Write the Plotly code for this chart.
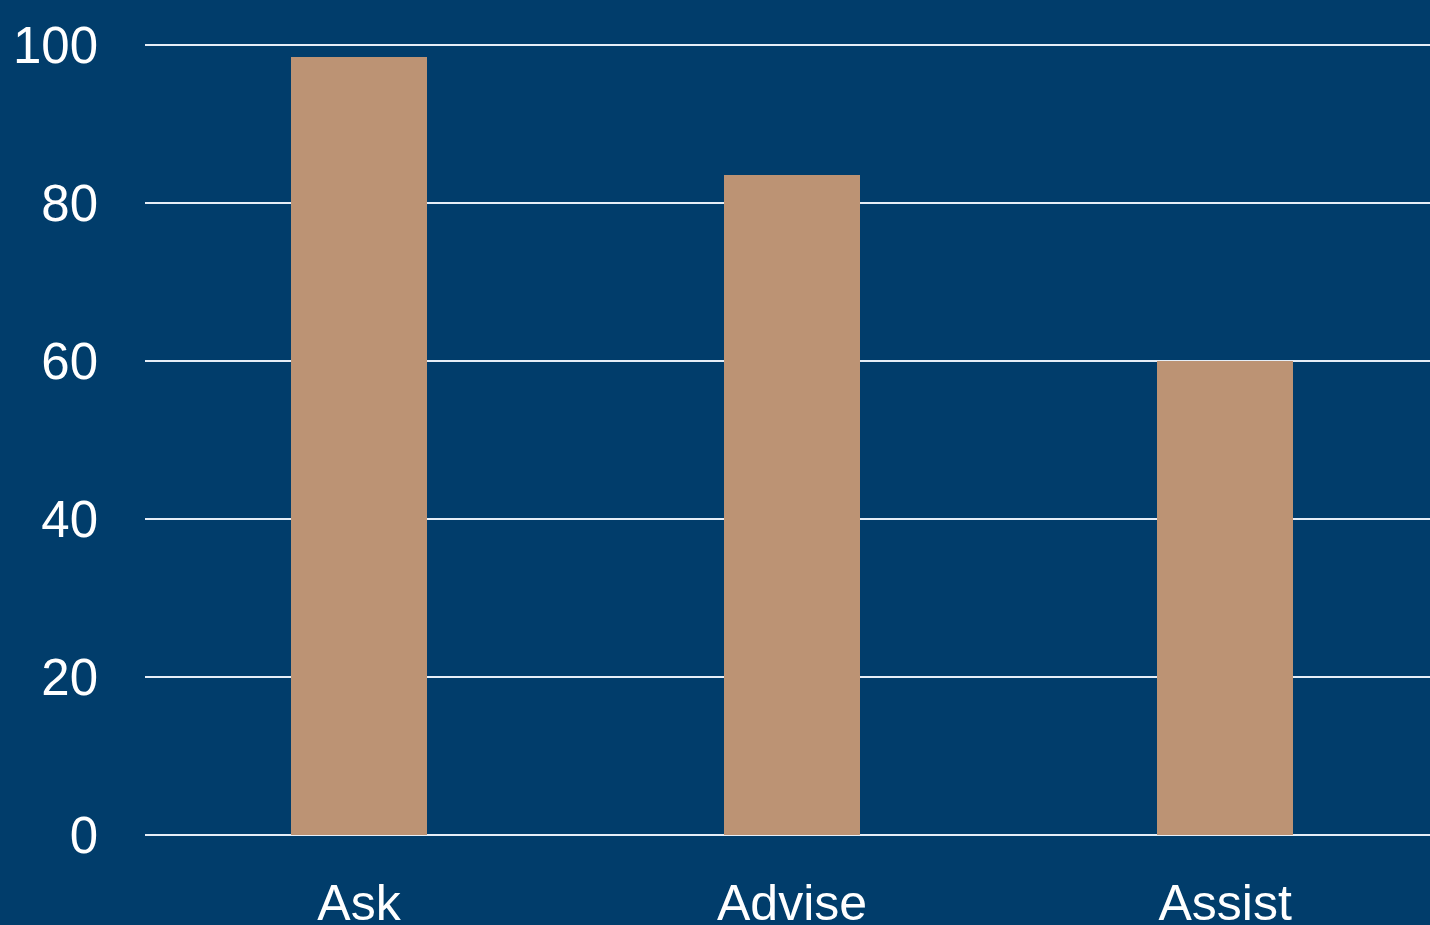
import plotly.graph_objects as go

# Categories and their percentages
categories = ["Ask", "Advise", "Assist"]
values = [98.5, 83.5, 60]
y_ticks = [0, 20, 40, 60, 80, 100]

bg = "#013d6b"
bar_color = "#bc9374"
grid_color = "#e6eef7"

fig = go.Figure(
    go.Bar(
        x=categories,
        y=values,
        width=0.314,
        marker=dict(color=bar_color, line=dict(width=0)),
        hoverinfo="x+y",
    )
)

fig.update_layout(
    width=1430,
    height=925,
    margin=dict(l=145, r=0, t=43, b=88),
    paper_bgcolor=bg,
    plot_bgcolor=bg,
    showlegend=False,
    font=dict(family="Liberation Sans, Arial, sans-serif", size=50, color="white"),
    bargap=0,
)

fig.update_xaxes(
    range=[-0.494, 2.473],
    automargin=False,
    showgrid=False,
    zeroline=False,
    showline=False,
    ticks="",
    ticklabelstandoff=32,
    tickfont=dict(size=50, color="white"),
)

# a small pad past 0 and 100 keeps the end gridlines drawn
fig.update_yaxes(
    range=[-0.25, 100.25],
    automargin=False,
    tickvals=y_ticks,
    ticktext=[str(v) for v in y_ticks],
    showgrid=True,
    gridcolor=grid_color,
    gridwidth=2,
    zeroline=False,
    showline=False,
    ticks="",
    ticklabelstandoff=46,
    tickfont=dict(size=51, color="white"),
)

fig.write_html("out.html")
